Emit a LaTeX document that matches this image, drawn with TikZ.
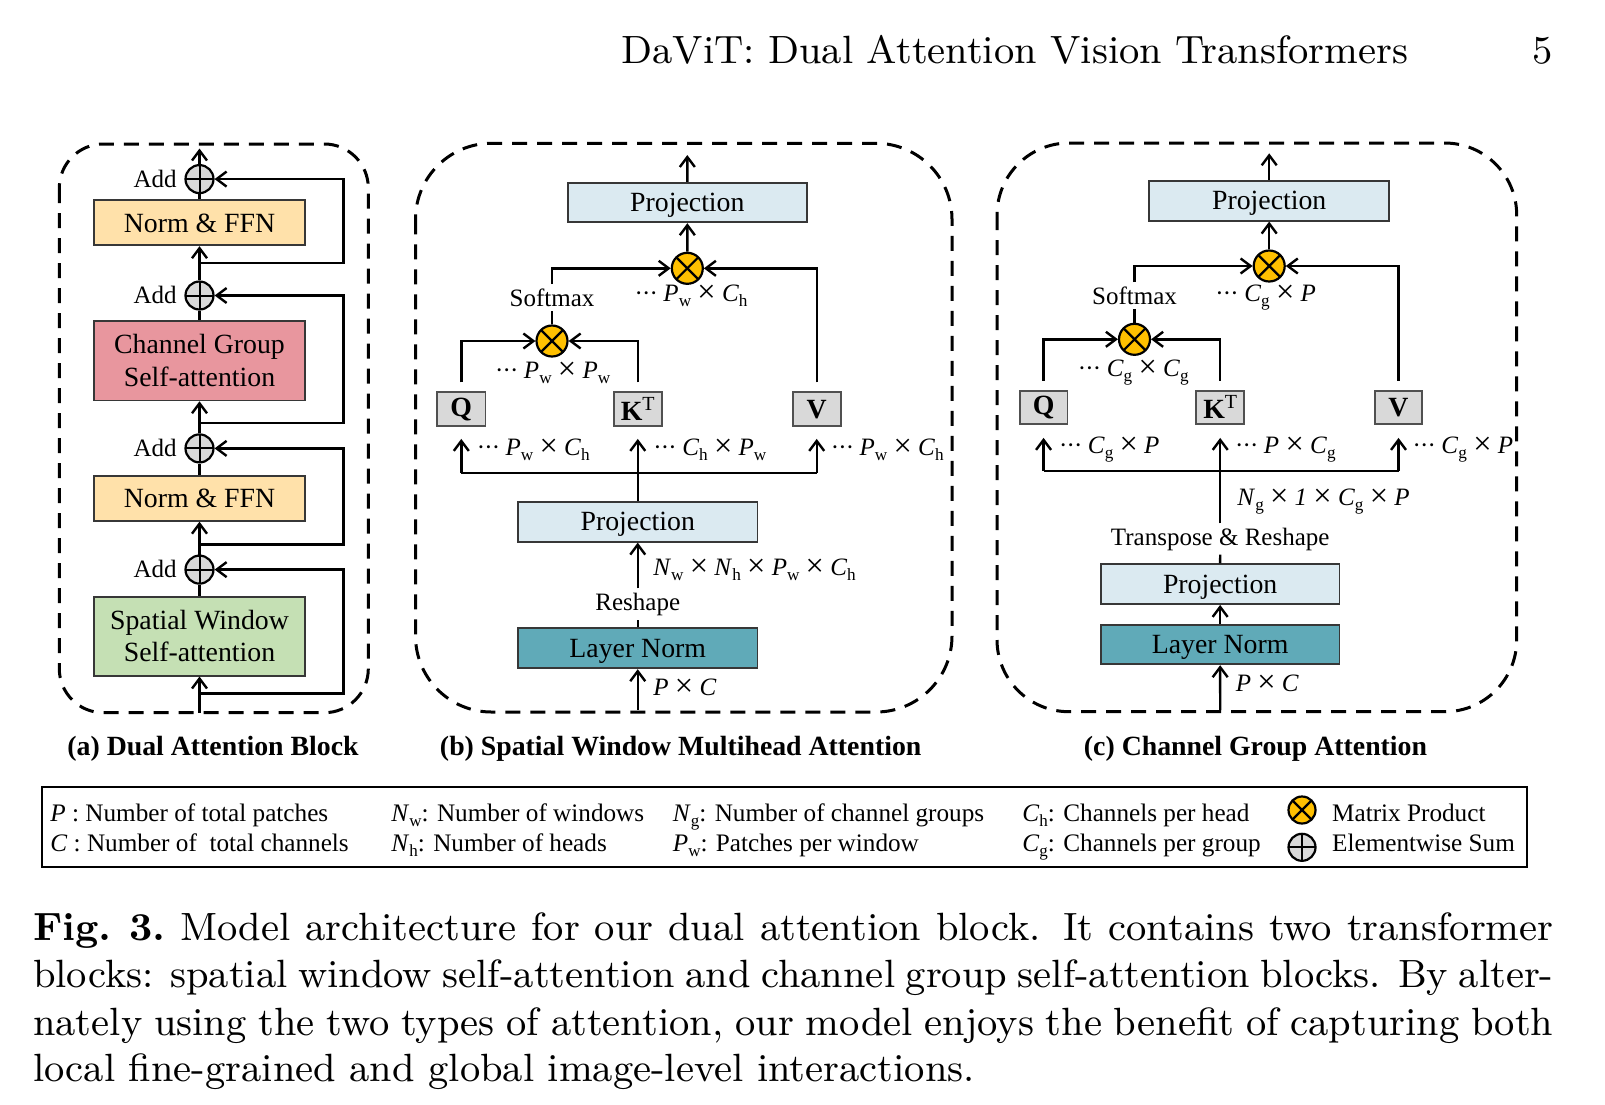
\documentclass[tikz,border=0pt]{standalone}
\usepackage{fontspec}
\usepackage{graphicx}
\newfontfamily\tnr{Liberation Serif}
\usetikzlibrary{arrows.meta}
\definecolor{ffn}{RGB}{255,225,170}
\definecolor{cgs}{RGB}{232,150,158}
\definecolor{sws}{RGB}{197,224,180}
\definecolor{proj}{RGB}{219,234,241}
\definecolor{lnorm}{RGB}{96,170,184}
\definecolor{qkvfill}{RGB}{217,217,217}
\definecolor{qkvln}{RGB}{80,80,80}
\definecolor{boxln}{RGB}{55,55,55}
\definecolor{mulfill}{RGB}{255,192,0}
\definecolor{addfill}{RGB}{217,217,217}
\newcommand\dfont{\tnr\fontsize{13.9pt}{16.25pt}\selectfont}
\newcommand\sfont{\tnr\fontsize{12.5pt}{15pt}\selectfont}
\newcommand\lfont{\tnr\fontsize{12.6pt}{15pt}\selectfont}
\newcommand\iv[1]{\textit{#1}}
\newcommand\sbs[1]{\raisebox{-2.6pt}{\fontsize{8.6pt}{9pt}\selectfont #1}}
\newcommand\lsb[1]{\raisebox{-2.5pt}{\fontsize{8.5pt}{9pt}\selectfont #1}}
\newcommand\dts{·\kern-0.4pt·\kern-0.4pt·\hspace{0.22em}}
\newcommand\tms{\raisebox{-0.6pt}{\scalebox{1.3}{×}}}
\newcommand\kT{K\raisebox{5pt}{\fontsize{10pt}{10pt}\selectfont\mdseries T}}
\newcommand\capfont{\fontsize{9pt}{11pt}\selectfont}
\newcommand\bx[7]{\node[#6, minimum width={(#4-#2)*0.5pt}, minimum height={(#5-#3)*0.5pt}] (#1) at ({(#2+#4)/2},{(#3+#5)/2}) {#7};}
\tikzset{
  conn/.style={line width=1.2pt, draw=black},
  arr/.style={conn, -{Straight Barb[length=5pt,width=7.5pt,line width=1.2pt]}},
  panel/.style={draw=black, line width=1.5pt, dash pattern=on 7.5pt off 5pt},
  blk/.style={draw=boxln, line width=0.9pt, inner sep=0pt, align=center, font=\dfont},
  one/.style={blk, text depth=0pt},
  qkv/.style={blk, fill=qkvfill, draw=qkvln, font=\dfont\bfseries},
  addc/.style={circle, draw=black, line width=1.1pt, fill=addfill, inner sep=0pt, minimum size=14pt,
    path picture={\draw[line width=1pt] (path picture bounding box.north) -- (path picture bounding box.south)
      (path picture bounding box.west) -- (path picture bounding box.east);}},
  mulc/.style={circle, draw=black, line width=1.1pt, fill=mulfill, inner sep=0pt, minimum size=15.5pt,
    path picture={\draw[line width=1.1pt] (path picture bounding box.north west) -- (path picture bounding box.south east)
      (path picture bounding box.south west) -- (path picture bounding box.north east);}},
  lbl/.style={font=\sfont, inner sep=0pt, anchor=base west},
  txt/.style={font=\sfont, inner sep=2pt, anchor=base},
  ttl/.style={font=\dfont\bfseries, inner sep=0pt, anchor=base},
  leg/.style={font=\lfont, inner sep=0pt, anchor=base west},
  plain/.style={inner sep=0pt}
}
\begin{document}
\begin{tikzpicture}[x=0.5pt,y=-0.5pt]
\useasboundingbox (0,0) rectangle (1605,1104);

% ---------------- header
\node[plain, anchor=base west] (hdr) at (621,63.3) {\resizebox{393.5pt}{!}{\capfont DaViT: Dual Attention Vision Transformers}};
\node[plain, anchor=base east] (pgn) at (1553,63.3) {\scalebox{2.19}{\capfont 5}};

% ---------------- panel (a)
\draw[panel, rounded corners=22pt] (59.3,144) rectangle (368.3,712.7);
\bx{f1}{94}{200.2}{305}{245.3}{one,fill=ffn}{Norm \& FFN}
\bx{cg}{94}{321}{305}{400.4}{blk,fill=cgs}{Channel Group\\Self-attention}
\bx{f2}{94}{476.1}{305}{520.8}{one,fill=ffn}{Norm \& FFN}
\bx{sw}{94}{596.6}{305}{675.6}{blk,fill=sws}{Spatial Window\\Self-attention}
\node[addc] (a1) at (199.5,179.1) {};
\node[addc] (a2) at (199.5,295.5) {};
\node[addc] (a3) at (199.5,448.4) {};
\node[addc] (a4) at (199.5,569.6) {};
\node[lbl, anchor=base east] (t1) at (177,187.1) {Add};
\node[lbl, anchor=base east] (t2) at (177,303.5) {Add};
\node[lbl, anchor=base east] (t3) at (177,456.4) {Add};
\node[lbl, anchor=base east] (t4) at (177,577.6) {Add};
\coordinate (ain) at (199.5,712.7);
\coordinate (aout) at (199.5,148.5);
\coordinate (b4) at (199.5,693.4); \coordinate (c4) at (343.3,693.4);
\coordinate (b3) at (199.5,544.5); \coordinate (c3) at (343.3,544.5);
\coordinate (b2) at (199.5,423);   \coordinate (c2) at (343.3,423);
\coordinate (b1) at (199.5,263);   \coordinate (c1) at (343.3,263);
\draw[arr] (ain) -- (sw.south);
\draw[conn] (sw.north) -- (a4);
\draw[arr] (a4) -- (f2.south);
\draw[conn] (f2.north) -- (a3);
\draw[arr] (a3) -- (cg.south);
\draw[conn] (cg.north) -- (a2);
\draw[arr] (a2) -- (f1.south);
\draw[conn] (f1.north) -- (a1);
\draw[arr] (a1) -- (aout);
\draw[arr] (b4) -- (c4) |- (a4);
\draw[arr] (b3) -- (c3) |- (a3);
\draw[arr] (b2) -- (c2) |- (a2);
\draw[arr] (b1) -- (c1) |- (a1);
\node[ttl] (capA) at (213,755) {(a) Dual Attention Block};

% ---------------- panel (b)
\draw[panel, rounded corners=38pt] (415.5,143.3) rectangle (952,712);
\bx{pTb}{567.7}{182.7}{807}{222.3}{one,fill=proj}{Projection}
\node[mulc] (mTb) at (687.3,268.3) {};
\node[txt] (sfb) at (552,306) {Softmax};
\node[mulc] (mBb) at (552,341) {};
\bx{Qb}{437.2}{392.3}{485.4}{426}{qkv}{Q}
\bx{Kb}{613.7}{392.3}{661.8}{426}{qkv}{\kT}
\bx{Vb}{792.6}{392.3}{840.8}{426}{qkv}{V}
\bx{pBb}{518.1}{501.7}{757.4}{541.7}{one,fill=proj}{Projection}
\node[txt] (rsb) at (637.75,610) {Reshape};
\bx{lnb}{518.1}{628.3}{757.4}{668.3}{one,fill=lnorm}{Layer Norm}
\coordinate (inb) at (637.75,710);
\coordinate (outb) at (687.3,155);
\coordinate (hQb) at (461.3,472.7);
\coordinate (hVb) at (816.7,472.7);
\draw[arr] (inb) -- (lnb.south);
\draw[conn] (lnb.north) -- (rsb.south);
\draw[arr] (rsb.north) -- (pBb.south);
\draw[arr, shorten >=6pt] (pBb.north) -- (Kb.south);
\draw[conn] (hQb) -- (hVb);
\draw[arr, shorten >=6pt] (hQb) -- (Qb.south);
\draw[arr, shorten >=6pt] (hVb) -- (Vb.south);
\draw[arr, shorten <=4.5pt] (Qb.north) |- (mBb);
\draw[arr, shorten <=4.5pt] (Kb.north) |- (mBb);
\draw[arr, shorten <=4.5pt] (Vb.north) |- (mTb);
\draw[conn] (mBb) -- (sfb.south);
\draw[arr] (sfb.north) |- (mTb);
\draw[arr] (mTb) -- (pTb.south);
\draw[arr] (pTb.north) -- (outb);
\node[lbl] (lb1) at (634.2,301.7) {\dts\iv{P}\sbs{w} \tms{} \iv{C}\sbs{h}};
\node[lbl] (lb2) at (494.7,378.3) {\dts\iv{P}\sbs{w} \tms{} \iv{P}\sbs{w}};
\node[lbl] (lb3) at (476.4,455) {\dts\iv{P}\sbs{w} \tms{} \iv{C}\sbs{h}};
\node[lbl] (lb4) at (653,455) {\dts\iv{C}\sbs{h} \tms{} \iv{P}\sbs{w}};
\node[lbl] (lb5) at (830.4,455) {\dts\iv{P}\sbs{w} \tms{} \iv{C}\sbs{h}};
\node[lbl] (lb6) at (653,575) {\iv{N}\sbs{w} \tms{} \iv{N}\sbs{h} \tms{} \iv{P}\sbs{w} \tms{} \iv{C}\sbs{h}};
\node[lbl] (lb7) at (653,695) {\iv{P} \tms{} \iv{C}};
\node[ttl] (capB) at (680.7,755) {(b) Spatial Window Multihead Attention};

% ---------------- panel (c)
\draw[panel, rounded corners=36pt] (997,143) rectangle (1516.7,711.7);
\bx{pTc}{1149.2}{180.7}{1389.2}{220.7}{one,fill=proj}{Projection}
\node[mulc] (mTc) at (1269.2,266) {};
\node[txt] (sfc) at (1134.5,304) {Softmax};
\node[mulc] (mBc) at (1134.5,339.3) {};
\bx{Qc}{1019.7}{390.7}{1067.4}{424}{qkv}{Q}
\bx{Kc}{1196.2}{390.7}{1244.2}{424}{qkv}{\kT}
\bx{Vc}{1374.7}{390.7}{1422.3}{424}{qkv}{V}
\node[txt] (trc) at (1220.2,545) {Transpose \& Reshape};
\bx{pBc}{1100.8}{564.3}{1339.5}{604}{one,fill=proj}{Projection}
\bx{lnc}{1100.8}{624.7}{1339.5}{664.3}{one,fill=lnorm}{Layer Norm}
\coordinate (inc) at (1220.2,710);
\coordinate (outc) at (1269.2,153.3);
\coordinate (hQc) at (1043.55,471);
\coordinate (hVc) at (1398.5,471);
\draw[arr] (inc) -- (lnc.south);
\draw[arr] (lnc.north) -- (pBc.south);
\draw[conn] (pBc.north) -- (trc.south);
\draw[arr, shorten >=6.5pt] (trc.north) -- (Kc.south);
\draw[conn] (hQc) -- (hVc);
\draw[arr, shorten >=6.5pt] (hQc) -- (Qc.south);
\draw[arr, shorten >=6.5pt] (hVc) -- (Vc.south);
\draw[arr, shorten <=4.5pt] (Qc.north) |- (mBc);
\draw[arr, shorten <=4.5pt] (Kc.north) |- (mBc);
\draw[arr, shorten <=4.5pt] (Vc.north) |- (mTc);
\draw[conn] (mBc) -- (sfc.south);
\draw[arr] (sfc.north) |- (mTc);
\draw[arr] (mTc) -- (pTc.south);
\draw[arr] (pTc.north) -- (outc);
\node[lbl] (lc1) at (1215,301) {\dts\iv{C}\sbs{g} \tms{} \iv{P}};
\node[lbl] (lc2) at (1077.5,376.7) {\dts\iv{C}\sbs{g} \tms{} \iv{C}\sbs{g}};
\node[lbl] (lc3) at (1058.6,453.3) {\dts\iv{C}\sbs{g} \tms{} \iv{P}};
\node[lbl] (lc4) at (1234.7,453.3) {\dts\iv{P} \tms{} \iv{C}\sbs{g}};
\node[lbl] (lc5) at (1412.2,453.3) {\dts\iv{C}\sbs{g} \tms{} \iv{P}};
\node[lbl] (lc6) at (1237,505) {\iv{N}\sbs{g} \tms{} \iv{1} \tms{} \iv{C}\sbs{g} \tms{} \iv{P}};
\node[lbl] (lc7) at (1235.4,691.7) {\iv{P} \tms{} \iv{C}};
\node[ttl] (capC) at (1255.5,755) {(c) Channel Group Attention};

% ---------------- legend
\bx{legbox}{42}{786.7}{1526.7}{867.3}{draw=black,line width=1pt,inner sep=0pt}{}
\node[leg] (l11) at (50,821.7) {\iv{P} : Number of total patches};
\node[leg] (l12) at (50,851.7) {\iv{C} : Number of\ \ total channels};
\node[leg] (l21) at (391,821.7) {\iv{N}\lsb{w}: Number of windows};
\node[leg] (l22) at (391,851.7) {\iv{N}\lsb{h}: Number of heads};
\node[leg] (l31) at (672.5,821.7) {\iv{N}\lsb{g}: Number of channel groups};
\node[leg] (l32) at (672.5,851.7) {\iv{P}\lsb{w}: Patches per window};
\node[leg] (l41) at (1022,821.7) {\iv{C}\lsb{h}: Channels per head};
\node[leg] (l42) at (1022,851.7) {\iv{C}\lsb{g}: Channels per group};
\node[mulc, minimum size=13.5pt] (lm) at (1302,810) {};
\node[addc, minimum size=13.5pt] (la) at (1302,847.3) {};
\node[leg] (l51) at (1331.8,821.7) {Matrix Product};
\node[leg] (l52) at (1331.8,851.7) {Elementwise Sum};

% ---------------- caption
\node[plain, anchor=base west] (cp1) at (32.8,940) {\scalebox{2.19}{\makebox[347.1pt][s]{\capfont\textbf{Fig.~3.}\ Model architecture for our dual attention block. It contains two transformer}}};
\node[plain, anchor=base west] (cp2) at (32.8,987.3) {\scalebox{2.19}{\makebox[347.1pt][s]{\capfont blocks: spatial window self-attention and channel group self-attention blocks. By alter-}}};
\node[plain, anchor=base west] (cp3) at (32.8,1035) {\scalebox{2.19}{\makebox[347.1pt][s]{\capfont nately using the two types of attention, our model enjoys the benefit of capturing both}}};
\node[plain, anchor=base west] (cp4) at (32.8,1081.7) {\scalebox{2.19}{\capfont local fine-grained and global image-level interactions.}};
\end{tikzpicture}
\end{document}
